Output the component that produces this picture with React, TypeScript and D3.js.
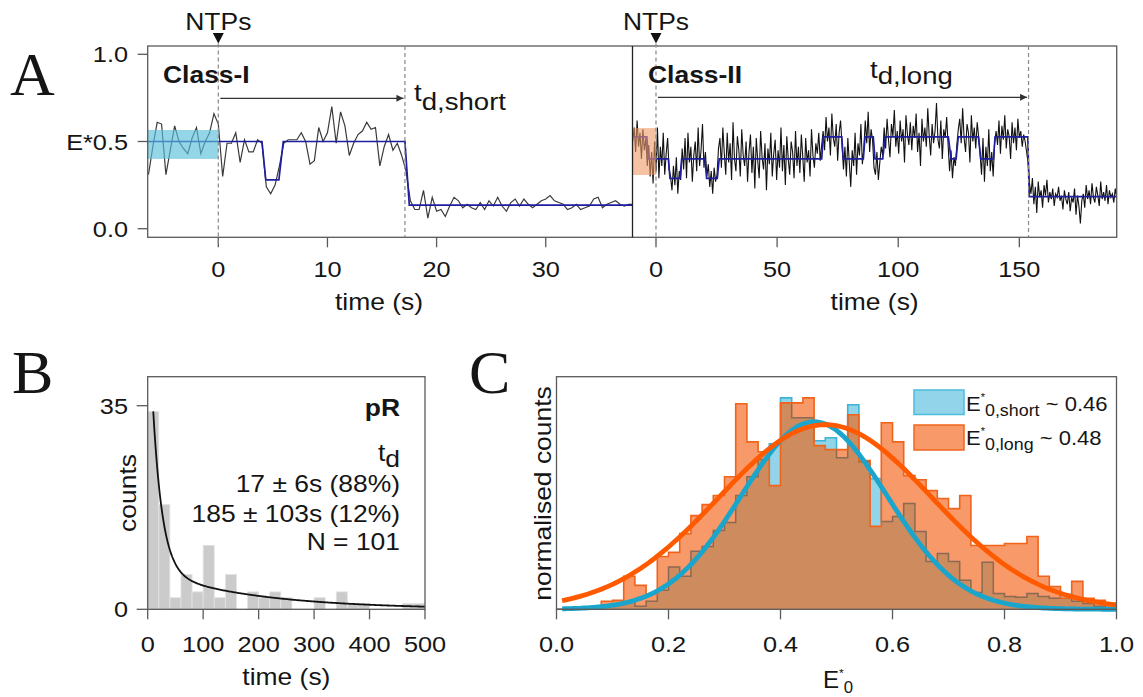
import React from "react";
import * as d3 from "d3";

const SANS = "'Liberation Sans', Arial, sans-serif";
const SERIF = "'Liberation Serif', 'Times New Roman', serif";
const INK = "#151515";
const SX = 1.15;

// ---------- Panel A: Class-I trace (E* vs time, s) ----------
const classIStart = -6.4;
const classIStep = 0.4;
const classIE = [
  0.31, 0.47, 0.61, 0.6, 0.31, 0.45, 0.59, 0.5, 0.46, 0.43,
  0.52, 0.58, 0.43, 0.5, 0.55, 0.66, 0.6, 0.3, 0.49, 0.49,
  0.55, 0.38, 0.51, 0.44, 0.44, 0.51, 0.49, 0.24, 0.2, 0.25,
  0.36, 0.49, 0.51, 0.51, 0.51, 0.55, 0.5, 0.37, 0.39, 0.58,
  0.5, 0.55, 0.7, 0.49, 0.67, 0.59, 0.42, 0.49, 0.54, 0.56,
  0.61, 0.57, 0.58, 0.36, 0.47, 0.54, 0.45, 0.49, 0.42, 0.33,
  0.16, 0.11, 0.11, 0.22, 0.06, 0.18, 0.1,
  0.11, 0.07, 0.13, 0.18, 0.16, 0.12, 0.14, 0.12, 0.11, 0.15,
  0.11, 0.16, 0.13, 0.18, 0.13, 0.1, 0.15, 0.17, 0.13, 0.17,
  0.14, 0.12, 0.14, 0.16, 0.17, 0.19, 0.16, 0.15, 0.14, 0.11,
  0.12, 0.14, 0.11, 0.12, 0.13, 0.17, 0.18, 0.12, 0.14, 0.15,
  0.16, 0.14, 0.13, 0.14, 0.14,
];
const classIFitT = [-6.47, 4.0, 4.35, 5.55, 5.95, 17.1, 17.5, 37.95];
const classIFitE = [0.5, 0.5, 0.28, 0.28, 0.5, 0.5, 0.135, 0.135];
const classIWindow = [-6.47, 0, 0.4, 0.566]; // t0, t1, E0, E1
const tdShort = 17.1;

// ---------- Panel A: Class-II trace ----------
const classIIStart = -9.6;
const classIIStep = 0.6;
const classIIE = [
  0.5, 0.58, 0.44, 0.62, 0.47, 0.55, 0.4, 0.57, 0.45, 0.52, 0.36,
  0.48, 0.3, 0.44, 0.26, 0.5, 0.33, 0.58, 0.29, 0.47, 0.36, 0.55, 0.31, 0.43, 0.52, 0.34,
  0.3, 0.22, 0.36, 0.25, 0.41, 0.2, 0.33, 0.28,
  0.46, 0.34, 0.52, 0.29, 0.55, 0.38, 0.47, 0.27, 0.42, 0.5, 0.33, 0.58, 0.36, 0.45, 0.6, 0.35, 0.44,
  0.3, 0.37, 0.24, 0.33, 0.2, 0.35, 0.27, 0.31,
  0.46, 0.52, 0.35, 0.58, 0.43, 0.31, 0.55, 0.38, 0.49, 0.28, 0.61, 0.4, 0.33, 0.53, 0.45, 0.3, 0.57, 0.42, 0.36, 0.5,
  0.27, 0.44, 0.54, 0.32, 0.47, 0.23, 0.52, 0.39, 0.29, 0.56, 0.41, 0.34, 0.49, 0.22, 0.46, 0.37, 0.55, 0.3, 0.43, 0.51,
  0.28, 0.45, 0.35, 0.58, 0.33, 0.48, 0.25, 0.53, 0.4, 0.31, 0.5, 0.44, 0.29, 0.56, 0.36, 0.47, 0.32, 0.54, 0.41, 0.27,
  0.52, 0.38, 0.45, 0.3, 0.57, 0.42, 0.35, 0.49, 0.43, 0.55, 0.39, 0.48,
  0.56, 0.45, 0.64, 0.5, 0.58, 0.42, 0.66, 0.52, 0.47, 0.6, 0.39, 0.55, 0.62, 0.48,
  0.34, 0.47, 0.3, 0.52, 0.38, 0.24, 0.45, 0.36, 0.55, 0.31, 0.49, 0.42, 0.6, 0.37, 0.46,
  0.62, 0.49, 0.67, 0.44, 0.57, 0.51,
  0.35, 0.31, 0.44, 0.28, 0.38, 0.47, 0.42,
  0.58, 0.46, 0.63, 0.51, 0.41, 0.6, 0.53, 0.68, 0.47, 0.56, 0.43, 0.62, 0.5, 0.57, 0.38, 0.65, 0.54, 0.48, 0.61, 0.45,
  0.59, 0.52, 0.66, 0.44, 0.55, 0.36, 0.63, 0.5, 0.58, 0.47, 0.69, 0.53, 0.42, 0.6, 0.49, 0.56, 0.72, 0.51, 0.46, 0.62,
  0.4, 0.57, 0.52, 0.64, 0.48,
  0.33, 0.45, 0.29, 0.41, 0.36, 0.48,
  0.57, 0.63, 0.49, 0.69, 0.52, 0.44, 0.6, 0.55, 0.38, 0.65, 0.5, 0.58, 0.46, 0.61, 0.53,
  0.43, 0.31, 0.52, 0.27, 0.47, 0.36, 0.57, 0.33, 0.44, 0.3, 0.49,
  0.56, 0.48, 0.62, 0.43, 0.59, 0.51, 0.65, 0.46, 0.57, 0.53, 0.4, 0.61, 0.49, 0.58, 0.45, 0.63, 0.52, 0.56, 0.47, 0.54, 0.5, 0.44, 0.38,
  0.26, 0.2, 0.29, 0.14, 0.24, 0.09, 0.27, 0.18, 0.22, 0.12, 0.25, 0.19, 0.28, 0.15, 0.21, 0.17, 0.23, 0.13, 0.2, 0.18,
  0.24, 0.16, 0.19, 0.11, 0.22, 0.17, 0.14, 0.21, 0.1, 0.18, 0.15, 0.23, 0.08, 0.19, 0.13, 0.03, 0.16, 0.2, 0.12, 0.25,
  0.17, 0.22, 0.14, 0.26, 0.18, 0.15, 0.24, 0.19, 0.13, 0.27, 0.17, 0.21, 0.16, 0.25, 0.14, 0.22, 0.18, 0.2, 0.15, 0.23, 0.18,
];
const classIIFitT = [
  -9.7, -3.8, -3.2, 5.1, 5.8, 9.9, 10.6, 20.2, 20.9, 25.3, 26.1, 68.4, 69.1, 76.7, 77.3, 85.6,
  86.3, 89.7, 90.4, 93.6, 94.6, 120.7, 121.8, 123.9, 124.8, 133.1, 134.1, 139.3, 140.0, 153.5, 154.1, 190.2,
];
const classIIFitE = [
  0.527, 0.527, 0.4, 0.4, 0.289, 0.289, 0.4, 0.4, 0.289, 0.289, 0.4, 0.4, 0.527, 0.527, 0.4, 0.4,
  0.527, 0.527, 0.4, 0.4, 0.527, 0.527, 0.4, 0.4, 0.527, 0.527, 0.4, 0.4, 0.527, 0.527, 0.184, 0.184,
];
const classIIWindow = [-9.7, 0, 0.308, 0.577];
const tdLong = 153.8;

// ---------- Panel B: dwell-time histogram ----------
const dwellBinWidth = 20;
const dwellCounts = [34, 18, 2, 6, 3, 11, 2, 6, 0, 3, 2, 3, 2, 0, 0, 2, 0, 3, 1, 1, 0, 0, 0, 1, 1];
const tauShort = 17;
const tauLong = 185;
const fracShort = 0.88;
const fracLong = 0.12;
const fitAmp = 56.5;
const dwellTicks = [0, 100, 200, 300, 400, 500];

// ---------- Panel C: E*0 histograms (normalised counts) ----------
const eBinWidth = 0.02;
const eShortCounts = [
  0, 0, 0, 0, 1.4, 1.9, 3.3, 1.4, 3.8, 9, 20, 15.6, 27.4, 29.7, 37.3, 41, 53.8, 62.7, 70.8, 78.3,
  100, 90.6, 90.6, 79.7, 81.1, 71.7, 96.7, 69.8, 61.8, 41.5, 43.9, 50, 36.8, 22.6, 26.4, 22.6, 13.7, 8, 22.2, 7.5,
  6.1, 5.7, 7.5, 6.1, 5.2, 7.1, 3.8, 2.8, 1.4, 0.9,
];
const eLongCounts = [
  0, 0, 0, 0, 3.8, 4.2, 15.6, 11.3, 7.1, 25, 26.9, 35.8, 44.3, 49.5, 53.8, 62.7, 97.2, 79.2, 74.5, 58.5,
  97.6, 97.6, 100, 77.4, 75.5, 75.5, 92, 70.3, 39.2, 88.2, 79.2, 63.2, 61.3, 56.1, 52.4, 47.6, 53.8, 30.2, 30.2, 30.2,
  31.1, 31.1, 34.4, 15.6, 10.8, 5.2, 13.2, 5.2, 4.2, 2.8,
];
const muShort = 0.46, sigmaShort = 0.13, ampShort = 88.7;
const muLong = 0.48, sigmaLong = 0.19, ampLong = 87.3;
const eTicks = [0, 0.2, 0.4, 0.6, 0.8, 1.0];

// ---------- layout ----------
const aTop = 46, aBot = 237.3, aLeft = 147.7, aMid = 632.5, aRight = 1116.7;
const yA = d3.scaleLinear().domain([0, 1]).range([228.7, 54.3]);
const xA1 = d3.scaleLinear().domain([-6.47, 37.95]).range([aLeft, aMid]);
const xA2 = d3.scaleLinear().domain([-9.7, 190.2]).range([aMid, aRight]);

const bTop = 376.7, bBot = 609.3, bLeft = 147.7, bRight = 425;
const xB = d3.scaleLinear().domain([0, 500]).range([bLeft, bRight]);
const yB = d3.scaleLinear().domain([0, 35]).range([bBot, 405.7]);

const cTop = 376.7, cBot = 609.3, cLeft = 556.5, cRight = 1116.5;
const xC = d3.scaleLinear().domain([0, 1]).range([cLeft, cRight]);
const yC = d3.scaleLinear().domain([0, 110]).range([cBot, cTop]);

const AX = "#5a5a5a";

function Txt({ x, y, size = 23, anchor = "start", weight = "normal", rotate = 0, sx = SX, family = SANS, fill = INK, children }: any) {
  return (
    <text
      transform={`translate(${x},${y}) rotate(${rotate}) scale(${sx},1)`}
      fontSize={size}
      textAnchor={anchor}
      fontWeight={weight}
      fontFamily={family}
      fill={fill}
    >
      {children}
    </text>
  );
}

// E with a superscript star and a subscript, laid out left to right
function EStar({ x, y, sub, size = 22, subSize = 16, tail = "" }: any) {
  const star = size * 0.5;
  return (
    <text transform={`translate(${x},${y}) scale(1.05,1)`} fontSize={size} fontFamily={SANS} fill={INK}>
      E
      <tspan fontSize={star} dy={-size * 0.5}>*</tspan>
      <tspan fontSize={subSize} dy={size * 0.5 + subSize * 0.3}>{sub}</tspan>
      {tail ? <tspan fontSize={size} dy={-subSize * 0.3}>{tail}</tspan> : null}
    </text>
  );
}

const gauss = (x: number, mu: number, s: number, a: number) => a * Math.exp(-((x - mu) ** 2) / (2 * s * s));

function PanelA() {
  const lineI = d3.line<number>().x((_, i) => xA1(classIStart + i * classIStep)).y((d) => yA(d));
  const lineII = d3.line<number>().x((_, i) => xA2(classIIStart + i * classIIStep)).y((d) => yA(d));
  const fitI = d3.line<number>().x((_, i) => xA1(classIFitT[i])).y((d) => yA(d));
  const fitII = d3.line<number>().x((_, i) => xA2(classIIFitT[i])).y((d) => yA(d));
  const yTicks = [0, 0.5, 1];
  const yLabels = ["0.0", "E*0.5", "1.0"];
  const ticksI = [0, 10, 20, 30];
  const ticksII = [0, 50, 100, 150];
  const dash = "4,3";
  return (
    <g>
      <defs>
        <clipPath id="clipA1"><rect x={aLeft} y={aTop} width={aMid - aLeft} height={aBot - aTop} /></clipPath>
        <clipPath id="clipA2"><rect x={aMid} y={aTop} width={aRight - aMid} height={aBot - aTop} /></clipPath>
        <marker id="arrowA" viewBox="0 0 10 10" refX="10" refY="5" markerWidth="9" markerHeight="7" markerUnits="userSpaceOnUse" orient="auto">
          <path d="M0,0 L10,5 L0,10 z" fill="#333" />
        </marker>
      </defs>
      <g clipPath="url(#clipA1)">
        <path d={lineI(classIE) || ""} fill="none" stroke="#3a3a3a" strokeWidth={1.2} />
        <path d={fitI(classIFitE) || ""} fill="none" stroke="#1e1e9e" strokeWidth={1.7} />
        <rect x={xA1(classIWindow[0])} y={yA(classIWindow[3])} width={xA1(classIWindow[1]) - xA1(classIWindow[0])}
          height={yA(classIWindow[2]) - yA(classIWindow[3])} fill="#5bbfdc" opacity={0.65} />
      </g>
      <g clipPath="url(#clipA2)">
        <path d={lineII(classIIE) || ""} fill="none" stroke="#111" strokeWidth={1.1} />
        <path d={fitII(classIIFitE) || ""} fill="none" stroke="#1e1e9e" strokeWidth={1.7} />
        <rect x={xA2(classIIWindow[0])} y={yA(classIIWindow[3])} width={xA2(classIIWindow[1]) - xA2(classIIWindow[0])}
          height={yA(classIIWindow[2]) - yA(classIIWindow[3])} fill="#f09a68" opacity={0.6} />
      </g>
      <rect x={aLeft} y={aTop} width={aRight - aLeft} height={aBot - aTop} fill="none" stroke={AX} strokeWidth={1.3} />
      <line x1={aMid} x2={aMid} y1={aTop} y2={aBot} stroke="#222" strokeWidth={1.3} />
      {/* y axis */}
      {yTicks.map((t, i) => (
        <g key={t}>
          <line x1={aLeft - 10} x2={aLeft} y1={yA(t)} y2={yA(t)} stroke={AX} strokeWidth={1.3} />
          <Txt x={128} y={yA(t) + 8} size={22} anchor="end">{yLabels[i]}</Txt>
        </g>
      ))}
      {/* x axes */}
      {ticksI.map((t) => (
        <g key={"i" + t}>
          <line x1={xA1(t)} x2={xA1(t)} y1={aBot} y2={aBot + 10} stroke={AX} strokeWidth={1.3} />
          <Txt x={xA1(t)} y={277} size={22} anchor="middle">{t}</Txt>
        </g>
      ))}
      {ticksII.map((t) => (
        <g key={"ii" + t}>
          <line x1={xA2(t)} x2={xA2(t)} y1={aBot} y2={aBot + 10} stroke={AX} strokeWidth={1.3} />
          <Txt x={xA2(t)} y={277} size={22} anchor="middle">{t}</Txt>
        </g>
      ))}
      <Txt x={379} y={310} anchor="middle">time (s)</Txt>
      <Txt x={(aMid + aRight) / 2} y={310} anchor="middle">time (s)</Txt>
      {/* NTP markers and dwell lines */}
      {[xA1(0), xA2(0)].map((x, i) => (
        <g key={"ntp" + i}>
          <Txt x={x} y={30} anchor="middle">NTPs</Txt>
          <path d={`M${x - 5.5},33 L${x + 5.5},33 L${x},43.5 Z`} fill="#111" />
          <line x1={x} x2={x} y1={43.5} y2={aBot + 8} stroke="#888" strokeWidth={1.2} strokeDasharray={dash} />
        </g>
      ))}
      <line x1={xA1(tdShort)} x2={xA1(tdShort)} y1={aTop} y2={aBot} stroke="#888" strokeWidth={1.2} strokeDasharray={dash} />
      <line x1={xA2(tdLong)} x2={xA2(tdLong)} y1={aTop} y2={aBot} stroke="#888" strokeWidth={1.2} strokeDasharray={dash} />
      <line x1={xA1(0) + 2} x2={xA1(tdShort) - 1.5} y1={98.3} y2={98.3} stroke="#333" strokeWidth={1.3} markerEnd="url(#arrowA)" />
      <line x1={xA2(0) + 2} x2={xA2(tdLong) - 1.5} y1={97.3} y2={97.3} stroke="#333" strokeWidth={1.3} markerEnd="url(#arrowA)" />
      <Txt x={163} y={83} size={23} weight="bold">Class-I</Txt>
      <Txt x={648} y={83} size={23} weight="bold">Class-II</Txt>
      <Txt x={414} y={101} size={24}>t<tspan dy={9}>d,short</tspan></Txt>
      <Txt x={870} y={78} size={24}>t<tspan dy={6}>d,long</tspan></Txt>
      <Txt x={10} y={95} size={62} family={SERIF} sx={1}>A</Txt>
    </g>
  );
}

function PanelB() {
  const fitPts = d3.range(10, 500.1, 2).map((t) => [t, fitAmp * (fracShort * Math.exp(-t / tauShort) + fracLong * Math.exp(-t / tauLong))]);
  const fitLine = d3.line<number[]>().x((d) => xB(d[0])).y((d) => yB(d[1]));
  return (
    <g>
      {dwellCounts.map((c, i) =>
        c > 0 ? (
          <rect key={i} x={xB(i * dwellBinWidth)} y={yB(c)} width={xB((i + 1) * dwellBinWidth) - xB(i * dwellBinWidth)}
            height={yB(0) - yB(c)} fill="#cbcbcb" stroke="#e4e4e4" strokeWidth={0.8} />
        ) : null
      )}
      <path d={fitLine(fitPts) || ""} fill="none" stroke="#111" strokeWidth={1.8} />
      <rect x={bLeft} y={bTop} width={bRight - bLeft} height={bBot - bTop} fill="none" stroke={AX} strokeWidth={1.3} />
      {[0, 35].map((t) => (
        <g key={t}>
          <line x1={bLeft - 11} x2={bLeft} y1={yB(t)} y2={yB(t)} stroke={AX} strokeWidth={1.3} />
          <Txt x={128} y={yB(t) + 8} size={22} anchor="end">{t}</Txt>
        </g>
      ))}
      {dwellTicks.map((t) => (
        <g key={"x" + t}>
          <line x1={xB(t)} x2={xB(t)} y1={bBot} y2={bBot + 10} stroke={AX} strokeWidth={1.3} />
          <Txt x={xB(t)} y={652} size={22} anchor="middle">{t}</Txt>
        </g>
      ))}
      <Txt x={(bLeft + bRight) / 2} y={685} anchor="middle">time (s)</Txt>
      <Txt x={136} y={493} anchor="middle" rotate={-90}>counts</Txt>
      <Txt x={400} y={416} anchor="end" weight="bold">pR</Txt>
      <Txt x={400} y={461} anchor="end">t<tspan dy={6}>d</tspan></Txt>
      <Txt x={400} y={491.5} anchor="end">17 ± 6s (88%)</Txt>
      <Txt x={400} y={521.5} anchor="end">185 ± 103s (12%)</Txt>
      <Txt x={400} y={550} anchor="end">N = 101</Txt>
      <Txt x={12} y={393} size={62} family={SERIF} sx={1}>B</Txt>
    </g>
  );
}

function PanelC() {
  const steps = (vals: number[]) => [...vals.map((v, i) => [i * eBinWidth, v]), [vals.length * eBinWidth, vals[vals.length - 1]]];
  const area = d3.area<number[]>().curve(d3.curveStepAfter).x((d) => xC(d[0])).y0(cBot).y1((d) => yC(d[1]));
  const line = d3.line<number[]>().curve(d3.curveStepAfter).x((d) => xC(d[0])).y((d) => yC(d[1]));
  const overlap = eShortCounts.map((s, i) => Math.min(s, eLongCounts[i]));
  const xs = d3.range(0.01, 1.0001, 0.005);
  const gLine = (mu: number, s: number, a: number) =>
    d3.line<number>().x((d) => xC(d)).y((d) => yC(gauss(d, mu, s, a)))(xs) || "";
  const longArea = area(steps(eLongCounts)) || "";
  return (
    <g>
      <defs>
        <clipPath id="clipLong"><path d={longArea} /></clipPath>
      </defs>
      <path d={area(steps(eShortCounts)) || ""} fill="#92d4ea" />
      <path d={line(steps(eShortCounts)) || ""} fill="none" stroke="#3db4d6" strokeWidth={1.6} />
      <path d={longArea} fill="#f8996a" />
      <path d={area(steps(overlap)) || ""} fill="#cd8b5e" />
      <path d={line(steps(eShortCounts)) || ""} fill="none" stroke="#8a6a52" strokeWidth={1.5} clipPath="url(#clipLong)" />
      <path d={line(steps(eLongCounts)) || ""} fill="none" stroke="#f2631a" strokeWidth={1.6} />
      <path d={gLine(muShort, sigmaShort, ampShort)} fill="none" stroke="#1aa6cc" strokeWidth={4.8} />
      <path d={gLine(muLong, sigmaLong, ampLong)} fill="none" stroke="#ff5a00" strokeWidth={4.8} />
      <rect x={cLeft} y={cTop} width={cRight - cLeft} height={cBot - cTop} fill="none" stroke={AX} strokeWidth={1.3} />
      {eTicks.map((t) => (
        <g key={t}>
          <line x1={xC(t)} x2={xC(t)} y1={cBot} y2={cBot + 10} stroke={AX} strokeWidth={1.3} />
          <Txt x={xC(t)} y={652} size={22} anchor="middle">{t.toFixed(1)}</Txt>
        </g>
      ))}
      <Txt x={551} y={493.5} anchor="middle" rotate={-90}>normalised counts</Txt>
      <EStar x={823} y={688} sub="0" size={23} subSize={16} />
      {/* legend */}
      <rect x={914} y={390} width={50} height={24.5} fill="#92d4ea" stroke="#4cbcdc" strokeWidth={1.5} />
      <rect x={914} y={425} width={50} height={25} fill="#f8996a" stroke="#f2651c" strokeWidth={1.5} />
      <EStar x={966} y={411} sub="0,short" size={21} subSize={17} tail=" ~ 0.46" />
      <EStar x={966} y={445} sub="0,long" size={21} subSize={17} tail=" ~ 0.48" />
      <Txt x={469} y={393} size={62} family={SERIF} sx={1}>C</Txt>
    </g>
  );
}

export default function App() {
  return (
    <svg width={1143} height={697} viewBox="0 0 1143 697"
      style={{ position: "absolute", left: 0, top: 0, background: "#fff" }}>
      <rect x={0} y={0} width={1143} height={697} fill="#fff" />
      <PanelA />
      <PanelB />
      <PanelC />
    </svg>
  );
}
